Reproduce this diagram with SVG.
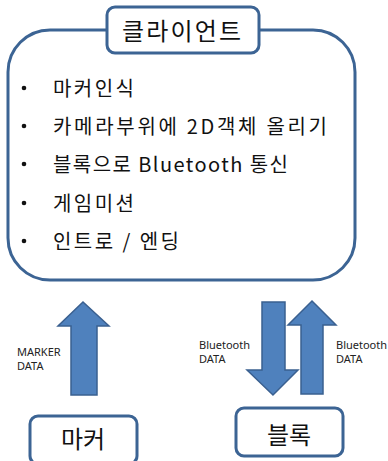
<svg xmlns="http://www.w3.org/2000/svg" width="388" height="461" viewBox="0 0 388 461">
<style>
.box{fill:#fff;stroke:#3C6494;stroke-width:3}
.arrow{fill:#4F81BD;stroke:#3A6090;stroke-width:1.5;stroke-linejoin:miter}
.ko{font-family:"Noto Sans CJK KR","Noto Sans",sans-serif;fill:#111}
.item{font-size:20px}
.small{font-family:"Noto Sans","Liberation Sans",sans-serif;font-size:11px;fill:#222}
</style>
<rect width="388" height="461" fill="#fff"/>
<g id="client">
<rect class="box" x="8" y="30" width="347" height="250" rx="42" ry="42"/>
<rect class="box" x="107" y="7" width="152" height="46" rx="8" ry="8"/>
<text class="ko" x="122" y="40" font-size="24" textLength="119" lengthAdjust="spacing">클라이언트</text>
<g class="ko item">
<circle cx="24" cy="88" r="2.3" fill="#111"/>
<text x="53" y="96" textLength="81" lengthAdjust="spacing">마커인식</text>
<circle cx="24" cy="126" r="2.3" fill="#111"/>
<text x="53" y="134" textLength="274" lengthAdjust="spacing">카메라부위에 2D객체 올리기</text>
<circle cx="24" cy="164" r="2.3" fill="#111"/>
<text x="53" y="172" textLength="235" lengthAdjust="spacing">블록으로 Bluetooth 통신</text>
<circle cx="24" cy="203" r="2.3" fill="#111"/>
<text x="53" y="211" textLength="81" lengthAdjust="spacing">게임미션</text>
<circle cx="24" cy="241" r="2.3" fill="#111"/>
<text x="53" y="249" textLength="126" lengthAdjust="spacing">인트로 / 엔딩</text>
</g>
</g>
<g id="marker">
<rect class="box" x="30" y="416" width="107" height="48" rx="8" ry="8" stroke-width="2.5"/>
<text class="ko" x="83" y="448" font-size="24" text-anchor="middle">마커</text>
</g>
<g id="block">
<rect class="box" x="236" y="408" width="107" height="48" rx="8" ry="8" stroke-width="2.5"/>
<text class="ko" x="289" y="444" font-size="24" text-anchor="middle">블록</text>
</g>
<g id="connectors">
<path class="arrow" d="M83,302 L109,326 L97,326 L97,395 L71,395 L71,326 L58,326 Z"/>
<path class="arrow" d="M262,302 L285,302 L285,370 L298,370 L273,395 L247,370 L262,370 Z"/>
<path class="arrow" d="M312,301 L336,325 L323,325 L323,394 L301,394 L301,325 L288,325 Z"/>
<text class="small" x="17" y="356">MARKER</text>
<text class="small" x="17" y="370">DATA</text>
<text class="small" x="199" y="349">Bluetooth</text>
<text class="small" x="199" y="363">DATA</text>
<text class="small" x="336" y="349">Bluetooth</text>
<text class="small" x="336" y="363">DATA</text>
</g>
</svg>
